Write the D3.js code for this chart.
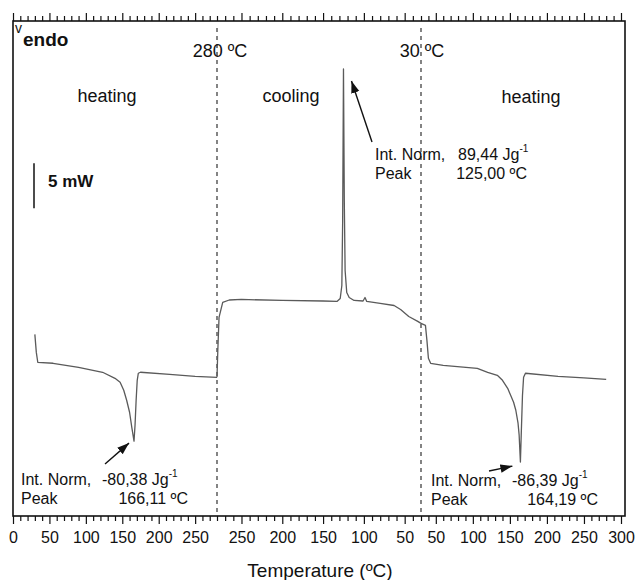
<!DOCTYPE html>
<html>
<head>
<meta charset="utf-8">
<script src="https://cdn.jsdelivr.net/npm/d3@7"></script>
<style>
  body { margin: 0; background: #fff; }
  svg { font-family: "Liberation Sans", Arial, sans-serif; }
</style>
</head>
<body>
<svg id="chart" width="639" height="580"></svg>
<script>
// first heating run (ºC, mW)
const heat1T = [30, 32, 34, 55, 90, 123, 140, 147, 152, 156, 160, 163, 166.1, 167.5, 169, 170.5, 172, 175, 215, 250, 280];
const heat1Q = [20.18, 18.18, 17.08, 16.97, 16.52, 15.97, 15.30, 14.86, 13.97, 12.86, 11.53, 9.87, 8.32, 10.09, 12.86, 15.08, 15.86, 15.97, 15.74, 15.52, 15.41];

// cooling run
const coolT = [280, 279, 277.5, 273, 265, 250, 200, 150, 133, 129, 127, 126, 125, 124, 123, 121, 118, 112, 101, 98.6, 96.5, 80, 63, 55, 45, 34, 30];
const coolQ = [15.41, 18.40, 22.06, 23.73, 24.0, 24.06, 23.95, 23.89, 23.84, 24.17, 25.61, 32.82, 49.67, 35.04, 27.27, 24.83, 24.28, 23.95, 23.89, 24.28, 23.84, 23.62, 23.39, 22.95, 22.17, 21.62, 21.40];

// second heating run
const heat2T = [30, 36, 38, 40, 43, 60, 106, 120, 133, 140, 147, 151, 155, 158, 161, 162.5, 164.2, 165.5, 167, 168.5, 171, 215, 250, 280];
const heat2Q = [21.40, 21.18, 19.51, 17.52, 16.96, 16.74, 16.41, 15.97, 15.63, 15.08, 14.19, 13.42, 12.64, 11.75, 10.31, 8.98, 5.99, 9.54, 13.42, 15.41, 15.86, 15.52, 15.35, 15.19];

// tick values per segment
const heat1Major = [0, 50, 100, 150, 200, 250];
const coolMajor = [250, 200, 150, 100, 50];
const heat2Major = [50, 100, 150, 200, 250, 300];

const svg = d3.select("#chart");
const mLeft = 13, mRight = 625, mTop = 21, mBottom = 516;

// three x scales, one per temperature program segment
const xH1 = d3.scaleLinear().domain([0, 280]).range([mLeft, 217]);
const xC = d3.scaleLinear().domain([280, 30]).range([217, 421]);
const xH2 = d3.scaleLinear().domain([30, 305.4]).range([421, mRight]);
const y = d3.scaleLinear().domain([0, 55]).range([mBottom, mTop]);

const minors = (a, b) => d3.range(a, b + 1, 10).filter(d => d % 50 !== 0);
const segs = [
  {x: xH1, major: heat1Major, minor: minors(10, 280)},
  {x: xC, major: coolMajor, minor: minors(40, 270)},
  {x: xH2, major: heat2Major, minor: minors(30, 300)}
];

segs.forEach(s => {
  const gb = svg.append("g").attr("transform", `translate(0,${mBottom})`)
    .call(d3.axisBottom(s.x).tickValues(s.major).tickSize(8).tickPadding(8).tickFormat(d3.format("d")));
  const gbm = svg.append("g").attr("transform", `translate(0,${mBottom})`)
    .call(d3.axisBottom(s.x).tickValues(s.minor).tickSize(5).tickFormat(""));
  const gt = svg.append("g").attr("transform", `translate(0,${mTop})`)
    .call(d3.axisTop(s.x).tickValues(s.major).tickSize(8).tickFormat(""));
  const gtm = svg.append("g").attr("transform", `translate(0,${mTop})`)
    .call(d3.axisTop(s.x).tickValues(s.minor).tickSize(5).tickFormat(""));
  [gb, gbm, gt, gtm].forEach(g => {
    g.select(".domain").remove();
    g.selectAll("line").attr("stroke", "#111").attr("stroke-width", 1.2);
    g.selectAll("text").attr("font-size", 16).attr("fill", "#111")
      .attr("font-family", "Liberation Sans, Arial, sans-serif");
  });
});

// frame
svg.append("rect")
  .attr("x", mLeft).attr("y", mTop)
  .attr("width", mRight - mLeft).attr("height", mBottom - mTop)
  .attr("fill", "none").attr("stroke", "#111").attr("stroke-width", 1.6);

// segment boundaries
[xH1(280), xC(30)].forEach(xx => {
  svg.append("line")
    .attr("x1", xx).attr("x2", xx).attr("y1", 28).attr("y2", mBottom)
    .attr("stroke", "#333").attr("stroke-width", 1.2)
    .attr("stroke-dasharray", "4,4");
});

// curves
const curves = [
  {x: xH1, t: heat1T, q: heat1Q},
  {x: xC, t: coolT, q: coolQ},
  {x: xH2, t: heat2T, q: heat2Q}
];
curves.forEach(c => {
  const line = d3.line().x(i => c.x(c.t[i])).y(i => y(c.q[i]));
  svg.append("path")
    .attr("d", line(d3.range(c.t.length)))
    .attr("fill", "none").attr("stroke", "#5a5a5a").attr("stroke-width", 1.3)
    .attr("stroke-linejoin", "round");
});

// labels
const txt = (x, yy, s, size, anchor, weight) => svg.append("text")
  .attr("x", x).attr("y", yy).attr("font-size", size)
  .attr("text-anchor", anchor || "start").attr("font-weight", weight || "normal")
  .attr("fill", "#111").text(s);

txt(15, 33, "v", 14);
txt(23, 46, "endo", 19, "start", "bold");
txt(220, 57, "280 ºC", 18, "middle");
txt(422, 57, "30 ºC", 18, "middle");
txt(107, 102, "heating", 18, "middle");
txt(291, 102, "cooling", 18, "middle");
txt(531, 103, "heating", 18, "middle");
txt(48, 187, "5 mW", 17, "start", "bold");
txt(320, 577, "Temperature (ºC)", 19, "middle");

// 5 mW scale bar
svg.append("line")
  .attr("x1", 34).attr("x2", 34).attr("y1", y(39.2)).attr("y2", y(34.2))
  .attr("stroke", "#111").attr("stroke-width", 1.5);

// annotations
function note(x, yy, val, peak, valX, peakX) {
  txt(x, yy, "Int. Norm,", 16);
  const t2 = svg.append("text").attr("x", valX).attr("y", yy).attr("font-size", 16).attr("fill", "#111");
  t2.append("tspan").text(val + " Jg");
  t2.append("tspan").attr("font-size", 10).attr("dy", -8).text("-1");
  txt(x, yy + 19, "Peak", 16);
  txt(peakX, yy + 19, peak + " ºC", 16, "end");
}
note(375, 160, "89,44", "125,00", 458, 527);
note(21, 485, "-80,38", "166,11", 102, 188);
note(431, 486, "-86,39", "164,19", 512, 598);

svg.append("defs").append("marker")
  .attr("id", "ah").attr("viewBox", "0 0 10 10").attr("refX", 10).attr("refY", 5)
  .attr("markerWidth", 12).attr("markerHeight", 12).attr("markerUnits", "userSpaceOnUse")
  .attr("orient", "auto")
  .append("path").attr("d", "M0,1.5 L10,5 L0,8.5 Z").attr("fill", "#111");

const arrow = (x1, y1, x2, y2) => svg.append("line")
  .attr("x1", x1).attr("y1", y1).attr("x2", x2).attr("y2", y2)
  .attr("stroke", "#111").attr("stroke-width", 1.4).attr("marker-end", "url(#ah)");

arrow(372, 142, xC(125) + 8, y(49.67) + 12);
arrow(105, 464, xH1(166.1) - 5, y(8.32) + 2);
arrow(489, 471, xH2(164.2) - 8, y(5.99) + 4);
</script>
</body>
</html>
